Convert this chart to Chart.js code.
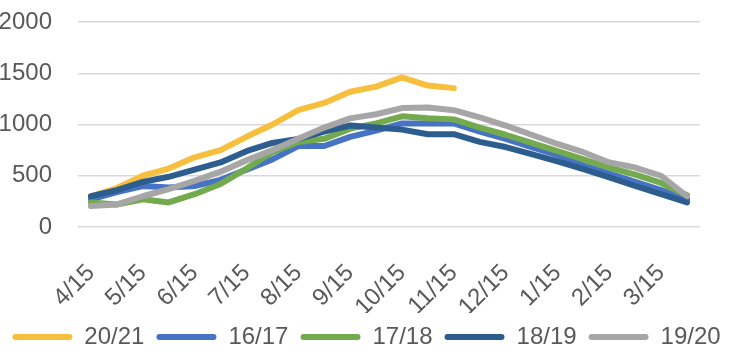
<!DOCTYPE html>
<html>
<head>
<meta charset="utf-8">
<script src="https://cdn.jsdelivr.net/npm/chart.js@4/dist/chart.umd.min.js"></script>
<style>
  html, body { margin: 0; padding: 0; background: #fff; }
  #wrap { width: 734px; height: 364px; }
</style>
</head>
<body>
<div id="wrap"><canvas id="trendChart"></canvas></div>
<script>
// semi-monthly points, only the 15th gets a label
const dates = ['4/15', '5/1', '5/15', '6/1', '6/15', '7/1', '7/15', '8/1', '8/15', '9/1', '9/15', '10/1',
    '10/15', '11/1', '11/15', '12/1', '12/15', '1/1', '1/15', '2/1', '2/15', '3/1', '3/15', '4/1'];

const s2021 = [300, 380, 500, 570, 680, 750, 880, 1000, 1140, 1210, 1320, 1370, 1460, 1380, 1355];
const s1617 = [270, 340, 400, 385, 400, 460, 560, 660, 790, 790, 880, 940, 1010, 1010, 1010, 930,
    860, 780, 700, 600, 520, 440, 360, 270];
const s1718 = [240, 220, 270, 240, 320, 420, 570, 730, 830, 860, 960, 1010, 1080, 1060, 1050, 970,
    900, 820, 740, 660, 580, 510, 430, 310];
const s1819 = [300, 360, 440, 490, 560, 630, 740, 820, 860, 930, 990, 970, 950, 905, 905, 830,
    780, 710, 640, 565, 485, 400, 320, 240];
const s1920 = [205, 220, 300, 370, 450, 540, 650, 750, 860, 970, 1060, 1100, 1160, 1165, 1140, 1070,
    990, 900, 810, 730, 630, 580, 500, 300];

const yTicks = [0, 500, 1000, 1500, 2000];

const textColor = '#595959';
const fontFamily = '"Liberation Sans", Arial, sans-serif';

const makeSet = (label, data, color, order) => ({
    label: label,
    data: data,
    borderColor: color,
    backgroundColor: color,
    borderWidth: 6,
    pointRadius: 0,
    tension: 0,
    fill: false,
    borderCapStyle: 'round',
    borderJoinStyle: 'round',
    order: order
});

const ctx = document.getElementById('trendChart').getContext('2d');
new Chart(ctx, {
    type: 'line',
    data: {
        labels: dates,
        datasets: [
            makeSet('20/21', s2021, '#F7BF3E', 4),
            makeSet('16/17', s1617, '#4673C3', 3),
            makeSet('17/18', s1718, '#73AA4E', 2),
            makeSet('18/19', s1819, '#2C5D8E', 1),
            makeSet('19/20', s1920, '#A6A6A6', 0)
        ]
    },
    options: {
        responsive: true,
        maintainAspectRatio: false,
        animation: false,
        layout: { padding: { left: -1, right: 0, top: 22, bottom: 5 } },
        plugins: {
            tooltip: { enabled: false },
            legend: {
                position: 'bottom',
                labels: {
                    color: textColor,
                    font: { family: fontFamily, size: 24 },
                    boxWidth: 60,
                    boxHeight: 6,
                    useBorderRadius: true,
                    borderRadius: 3,
                    padding: 12,
                    sort: (a, b) => a.datasetIndex - b.datasetIndex,
                    generateLabels: (chart) => Chart.defaults.plugins.legend.labels.generateLabels(chart)
                        .map(item => Object.assign(item, { lineWidth: 0 }))
                }
            }
        },
        scales: {
            x: {
                offset: true,
                grid: { display: false, drawTicks: false },
                border: { display: false },
                ticks: {
                    autoSkip: false,
                    minRotation: 45,
                    maxRotation: 45,
                    padding: 32,
                    color: textColor,
                    font: { family: fontFamily, size: 24 },
                    callback: (value, index) => index % 2 === 0 ? dates[index] : ''
                },
                afterFit: (scale) => {
                    scale.height = 86;
                    scale.paddingLeft = 0;
                    scale.paddingRight = 0;
                }
            },
            y: {
                min: 0,
                max: 2000,
                afterBuildTicks: (scale) => { scale.ticks = yTicks.map(v => ({ value: v })); },
                grid: { color: '#D9D9D9', lineWidth: 1.5, drawTicks: false },
                border: { display: false },
                ticks: {
                    padding: 26,
                    color: textColor,
                    font: { family: fontFamily, size: 24 },
                    callback: (value) => String(value)
                },
                afterFit: (scale) => {
                    scale.width = 79;
                    scale.paddingTop = 0;
                    scale.paddingBottom = 0;
                }
            },
            // empty right axis, only keeps a margin on the right of the plot
            yRight: {
                position: 'right',
                grid: { display: false, drawTicks: false },
                border: { display: false },
                ticks: { display: false },
                afterFit: (scale) => { scale.width = 34; }
            }
        }
    }
});
</script>
</body>
</html>
